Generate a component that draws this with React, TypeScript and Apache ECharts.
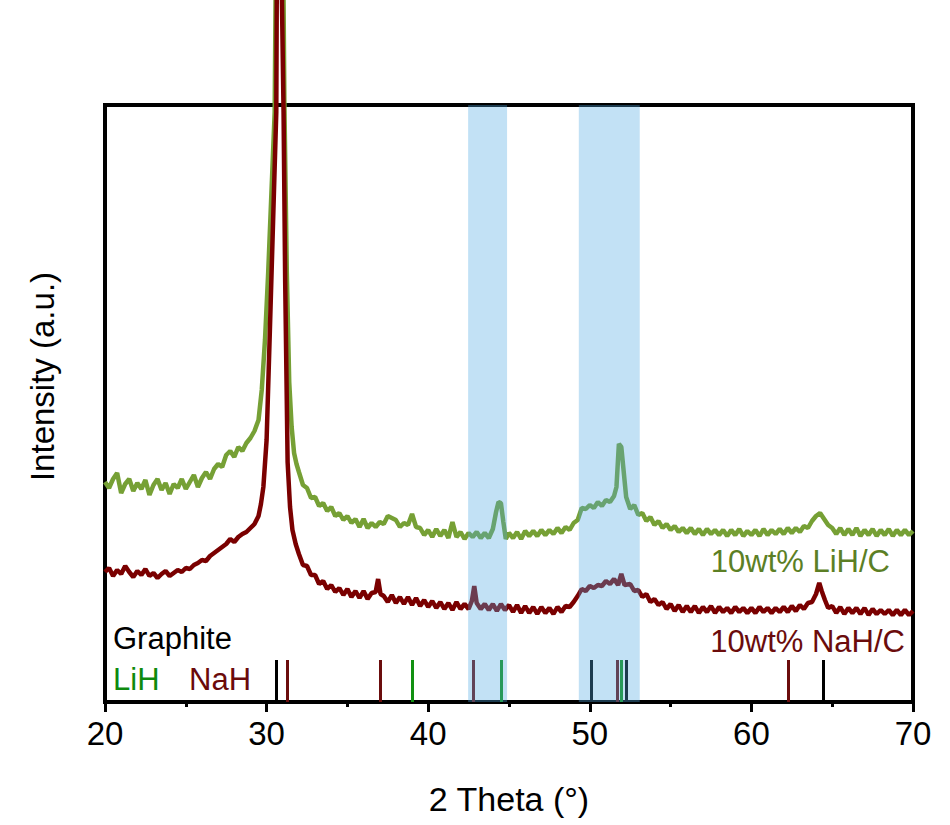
import React, { useEffect, useRef } from "react";
import * as echarts from "echarts";

// 2θ (degrees) vs intensity (a.u., offset stacked)
const lihCurve: [number, number][] = [
  [20.0, 220], [20.25, 214], [20.5, 223], [20.75, 229], [21.0, 209], [21.25, 218], [21.5, 223], [21.75, 211],
  [22.0, 219], [22.25, 213], [22.5, 222], [22.75, 207], [23.0, 217], [23.25, 223], [23.5, 212], [23.75, 219],
  [24.0, 208], [24.25, 218], [24.5, 214], [24.75, 223], [25.0, 213], [25.25, 220], [25.5, 227], [25.75, 215],
  [26.0, 224], [26.25, 230], [26.5, 223], [26.75, 233], [27.0, 238], [27.25, 235], [27.5, 247], [27.75, 251],
  [28.0, 245], [28.25, 255], [28.5, 251], [28.75, 259], [29.0, 264], [29.25, 271], [29.5, 282], [29.7, 312],
  [29.9, 362], [30.1, 430], [30.3, 510], [30.5, 590], [30.65, 900], [30.8, 1600], [30.95, 900], [31.1, 600],
  [31.25, 430], [31.4, 320], [31.55, 275], [31.7, 249], [31.85, 238], [32.0, 230], [32.25, 217], [32.5, 214],
  [32.75, 204], [33.0, 205], [33.25, 196], [33.5, 199], [33.75, 191], [34.0, 195], [34.25, 186], [34.5, 189],
  [34.75, 182], [35.0, 186], [35.25, 179], [35.5, 183], [35.75, 175], [36.0, 183], [36.25, 174], [36.5, 179],
  [36.75, 175], [37.0, 180], [37.25, 178], [37.5, 186], [37.75, 184], [38.0, 182], [38.25, 175], [38.5, 179],
  [38.75, 177], [39.0, 188], [39.25, 175], [39.5, 174], [39.75, 167], [40.0, 172], [40.25, 165], [40.5, 173],
  [40.75, 166], [41.0, 172], [41.25, 164], [41.5, 180], [41.75, 165], [42.0, 170], [42.25, 163], [42.5, 169],
  [42.75, 165], [43.0, 170], [43.25, 164], [43.5, 169], [43.75, 164], [44.0, 173], [44.2, 190], [44.35, 200],
  [44.5, 199], [44.65, 180], [44.8, 163], [45.0, 169], [45.25, 164], [45.5, 170], [45.75, 163], [46.0, 171],
  [46.25, 166], [46.5, 171], [46.75, 166], [47.0, 172], [47.25, 167], [47.5, 172], [47.75, 168], [48.0, 174],
  [48.25, 169], [48.5, 175], [48.75, 172], [49.0, 179], [49.25, 182], [49.5, 194], [49.75, 193], [50.0, 197],
  [50.25, 194], [50.5, 200], [50.75, 196], [51.0, 202], [51.25, 200], [51.5, 206], [51.65, 215], [51.8, 258],
  [51.95, 255], [52.1, 230], [52.25, 205], [52.5, 193], [52.75, 197], [53.0, 187], [53.25, 189], [53.5, 181],
  [53.75, 185], [54.0, 177], [54.25, 181], [54.5, 174], [54.75, 178], [55.0, 172], [55.25, 176], [55.5, 170],
  [55.75, 174], [56.0, 169], [56.25, 174], [56.5, 168], [56.75, 173], [57.0, 167], [57.25, 173], [57.5, 168],
  [57.75, 172], [58.0, 167], [58.25, 172], [58.5, 166], [58.75, 172], [59.0, 167], [59.25, 173], [59.5, 166],
  [59.75, 171], [60.0, 167], [60.25, 172], [60.5, 166], [60.75, 173], [61.0, 167], [61.25, 172], [61.5, 168],
  [61.75, 173], [62.0, 168], [62.25, 174], [62.5, 169], [62.75, 174], [63.0, 170], [63.25, 176], [63.5, 174],
  [63.75, 181], [64.0, 186], [64.25, 189], [64.5, 183], [64.75, 177], [65.0, 174], [65.25, 168], [65.5, 174],
  [65.75, 167], [66.0, 173], [66.25, 167], [66.5, 174], [66.75, 166], [67.0, 172], [67.25, 167], [67.5, 173],
  [67.75, 166], [68.0, 172], [68.25, 167], [68.5, 173], [68.75, 166], [69.0, 172], [69.25, 167], [69.5, 172],
  [69.75, 167], [70.0, 171],
];

const nahCurve: [number, number][] = [
  [20.0, 130], [20.25, 134], [20.5, 126], [20.75, 132], [21.0, 128], [21.25, 136], [21.5, 130], [21.75, 125],
  [22.0, 131], [22.25, 127], [22.5, 133], [22.75, 126], [23.0, 129], [23.25, 124], [23.5, 128], [23.75, 131],
  [24.0, 126], [24.25, 129], [24.5, 132], [24.75, 130], [25.0, 134], [25.25, 133], [25.5, 137], [25.75, 139],
  [26.0, 142], [26.25, 141], [26.5, 146], [26.75, 149], [27.0, 152], [27.25, 155], [27.5, 158], [27.75, 163],
  [28.0, 160], [28.25, 165], [28.5, 168], [28.75, 170], [29.0, 174], [29.25, 178], [29.5, 186], [29.65, 198],
  [29.8, 215], [30.0, 262], [30.2, 370], [30.4, 480], [30.6, 590], [30.75, 1200], [30.85, 1800], [30.95, 700],
  [31.05, 590], [31.15, 420], [31.3, 240], [31.45, 195], [31.6, 172], [31.8, 158], [32.0, 148], [32.25, 137],
  [32.5, 136], [32.75, 127], [33.0, 127], [33.25, 118], [33.5, 121], [33.75, 113], [34.0, 117], [34.25, 110],
  [34.5, 114], [34.75, 107], [35.0, 113], [35.25, 105], [35.5, 111], [35.75, 104], [36.0, 111], [36.25, 103],
  [36.5, 109], [36.75, 110], [36.9, 123], [37.05, 108], [37.25, 106], [37.5, 100], [37.75, 107], [38.0, 99],
  [38.25, 105], [38.5, 98], [38.75, 105], [39.0, 97], [39.25, 104], [39.5, 96], [39.75, 102], [40.0, 95],
  [40.25, 101], [40.5, 94], [40.75, 100], [41.0, 93], [41.25, 99], [41.5, 92], [41.75, 100], [42.0, 93],
  [42.25, 98], [42.5, 93], [42.7, 101], [42.85, 116], [43.0, 99], [43.25, 93], [43.5, 98], [43.75, 92],
  [44.0, 98], [44.25, 91], [44.5, 98], [44.75, 92], [45.0, 97], [45.25, 90], [45.5, 97], [45.75, 89],
  [46.0, 96], [46.25, 89], [46.5, 95], [46.75, 88], [47.0, 95], [47.25, 89], [47.5, 94], [47.75, 88],
  [48.0, 95], [48.25, 90], [48.5, 96], [48.75, 95], [49.0, 100], [49.25, 106], [49.5, 113], [49.75, 111],
  [50.0, 116], [50.25, 114], [50.5, 117], [50.75, 116], [51.0, 121], [51.25, 118], [51.5, 123], [51.75, 117],
  [51.95, 128], [52.15, 117], [52.5, 118], [52.75, 111], [53.0, 112], [53.25, 105], [53.5, 108], [53.75, 100],
  [54.0, 103], [54.25, 97], [54.5, 100], [54.75, 93], [55.0, 98], [55.25, 91], [55.5, 97], [55.75, 90],
  [56.0, 96], [56.25, 90], [56.5, 96], [56.75, 89], [57.0, 95], [57.25, 90], [57.5, 96], [57.75, 89],
  [58.0, 95], [58.25, 90], [58.5, 94], [58.75, 89], [59.0, 95], [59.25, 90], [59.5, 94], [59.75, 89],
  [60.0, 94], [60.25, 89], [60.5, 95], [60.75, 90], [61.0, 94], [61.25, 89], [61.5, 94], [61.75, 90],
  [62.0, 95], [62.25, 90], [62.5, 96], [62.75, 91], [63.0, 97], [63.25, 93], [63.5, 99], [63.75, 100],
  [64.0, 108], [64.2, 119], [64.35, 111], [64.55, 102], [64.75, 94], [65.0, 96], [65.25, 89], [65.5, 95],
  [65.75, 88], [66.0, 94], [66.25, 89], [66.5, 94], [66.75, 88], [67.0, 94], [67.25, 87], [67.5, 93],
  [67.75, 88], [68.0, 92], [68.25, 88], [68.5, 92], [68.75, 87], [69.0, 92], [69.25, 87], [69.5, 92],
  [69.75, 87], [70.0, 91],
];

// reference reflection positions (2θ)
const graphiteRefs = [30.62, 50.06, 52.28, 64.44];
const lihRefs = [39.0, 44.5, 51.96];
const nahRefs = [31.3, 37.04, 42.8, 51.67, 62.28];
const refBarHeight = 42;

// highlighted 2θ ranges
const bands: [number, number][] = [
  [42.47, 44.88],
  [49.32, 53.09],
];

const xTicks = { min: 20, max: 70, interval: 10 };
const yRange = { min: 0, max: 597 };

const FONT = "'Liberation Sans', Arial, sans-serif";

export default function App() {
  const ref = useRef<HTMLDivElement>(null);

  useEffect(() => {
    if (!ref.current) return;
    const chart = echarts.init(ref.current, undefined, { renderer: "svg" });

    const refSeries = (xs: number[], color: string, name: string) => ({
      name,
      type: "lines",
      coordinateSystem: "cartesian2d",
      z: 2,
      silent: true,
      lineStyle: { color, width: 3, opacity: 1 },
      data: xs.map((x) => ({ coords: [[x, 0], [x, refBarHeight]] })),
    });

    chart.setOption({
      animation: false,
      backgroundColor: "#ffffff",
      grid: {
        left: 105,
        right: 37,
        top: 105,
        bottom: 123,
        show: true,
        borderColor: "#000",
        borderWidth: 4,
        backgroundColor: "transparent",
      },
      xAxis: {
        type: "value",
        min: xTicks.min,
        max: xTicks.max,
        interval: xTicks.interval,
        name: "2 Theta (°)",
        nameLocation: "middle",
        nameGap: 80,
        nameTextStyle: { fontSize: 34, color: "#000", fontFamily: FONT },
        axisLine: { show: true, lineStyle: { color: "#000", width: 4 } },
        axisTick: { show: true, inside: false, length: 10, lineStyle: { color: "#000", width: 3 } },
        minorTick: { show: true, splitNumber: 2, length: 5, lineStyle: { color: "#000", width: 3 } },
        axisLabel: { fontSize: 33, color: "#000", fontFamily: FONT, margin: 15 },
        splitLine: { show: false },
        minorSplitLine: { show: false },
      },
      yAxis: {
        type: "value",
        min: yRange.min,
        max: yRange.max,
        name: "Intensity (a.u.)",
        nameLocation: "middle",
        nameGap: 46,
        nameRotate: 90,
        nameTextStyle: { fontSize: 33, color: "#000", fontFamily: FONT, padding: [0, 0, 0, 54] },
        axisLine: { show: false },
        axisTick: { show: false },
        axisLabel: { show: false },
        splitLine: { show: false },
      },
      series: [
        {
          name: "10wt% LiH/C",
          type: "line",
          data: lihCurve,
          clip: false,
          showSymbol: false,
          symbol: "none",
          z: 2,
          lineStyle: { color: "#76a035", width: 4.5 },
        },
        {
          name: "10wt% NaH/C",
          type: "line",
          data: nahCurve,
          clip: false,
          showSymbol: false,
          symbol: "none",
          z: 2,
          lineStyle: { color: "#7a0000", width: 4.5 },
        },
        refSeries(graphiteRefs, "#000000", "Graphite"),
        refSeries(lihRefs, "#119111", "LiH"),
        refSeries(nahRefs, "#6b0d0d", "NaH"),
        {
          name: "bands",
          type: "custom",
          z: 6,
          silent: true,
          data: bands,
          renderItem: (params: any, api: any) => {
            const cs = params.coordSys;
            const p0 = api.coord([api.value(0), yRange.max]);
            const p1 = api.coord([api.value(1), yRange.max]);
            return {
              type: "rect",
              shape: { x: p0[0], y: cs.y, width: p1[0] - p0[0], height: cs.height },
              style: { fill: "rgba(80,170,225,0.35)" },
            };
          },
        },
      ],
      graphic: [
        {
          type: "text",
          x: 113,
          y: 638,
          z: 10,
          style: { text: "Graphite", fontSize: 31, fontFamily: FONT, fill: "#000", verticalAlign: "middle" },
        },
        {
          type: "text",
          x: 113,
          y: 679,
          z: 10,
          style: { text: "LiH", fontSize: 31, fontFamily: FONT, fill: "#0e8a0e", verticalAlign: "middle" },
        },
        {
          type: "text",
          x: 189,
          y: 679,
          z: 10,
          style: { text: "NaH", fontSize: 31, fontFamily: FONT, fill: "#6b0a0a", verticalAlign: "middle" },
        },
        {
          type: "text",
          x: 890,
          y: 561,
          z: 10,
          style: { text: "10wt% LiH/C", fontSize: 31, fontFamily: FONT, fill: "#5c7f25", align: "right", verticalAlign: "middle" },
        },
        {
          type: "text",
          x: 905,
          y: 641,
          z: 10,
          style: { text: "10wt% NaH/C", fontSize: 31, fontFamily: FONT, fill: "#6b0c0c", align: "right", verticalAlign: "middle" },
        },
      ],
    });

    return () => chart.dispose();
  }, []);

  return (
    <div
      ref={ref}
      style={{ position: "fixed", left: 0, top: 0, width: 950, height: 825, background: "#fff" }}
    />
  );
}
